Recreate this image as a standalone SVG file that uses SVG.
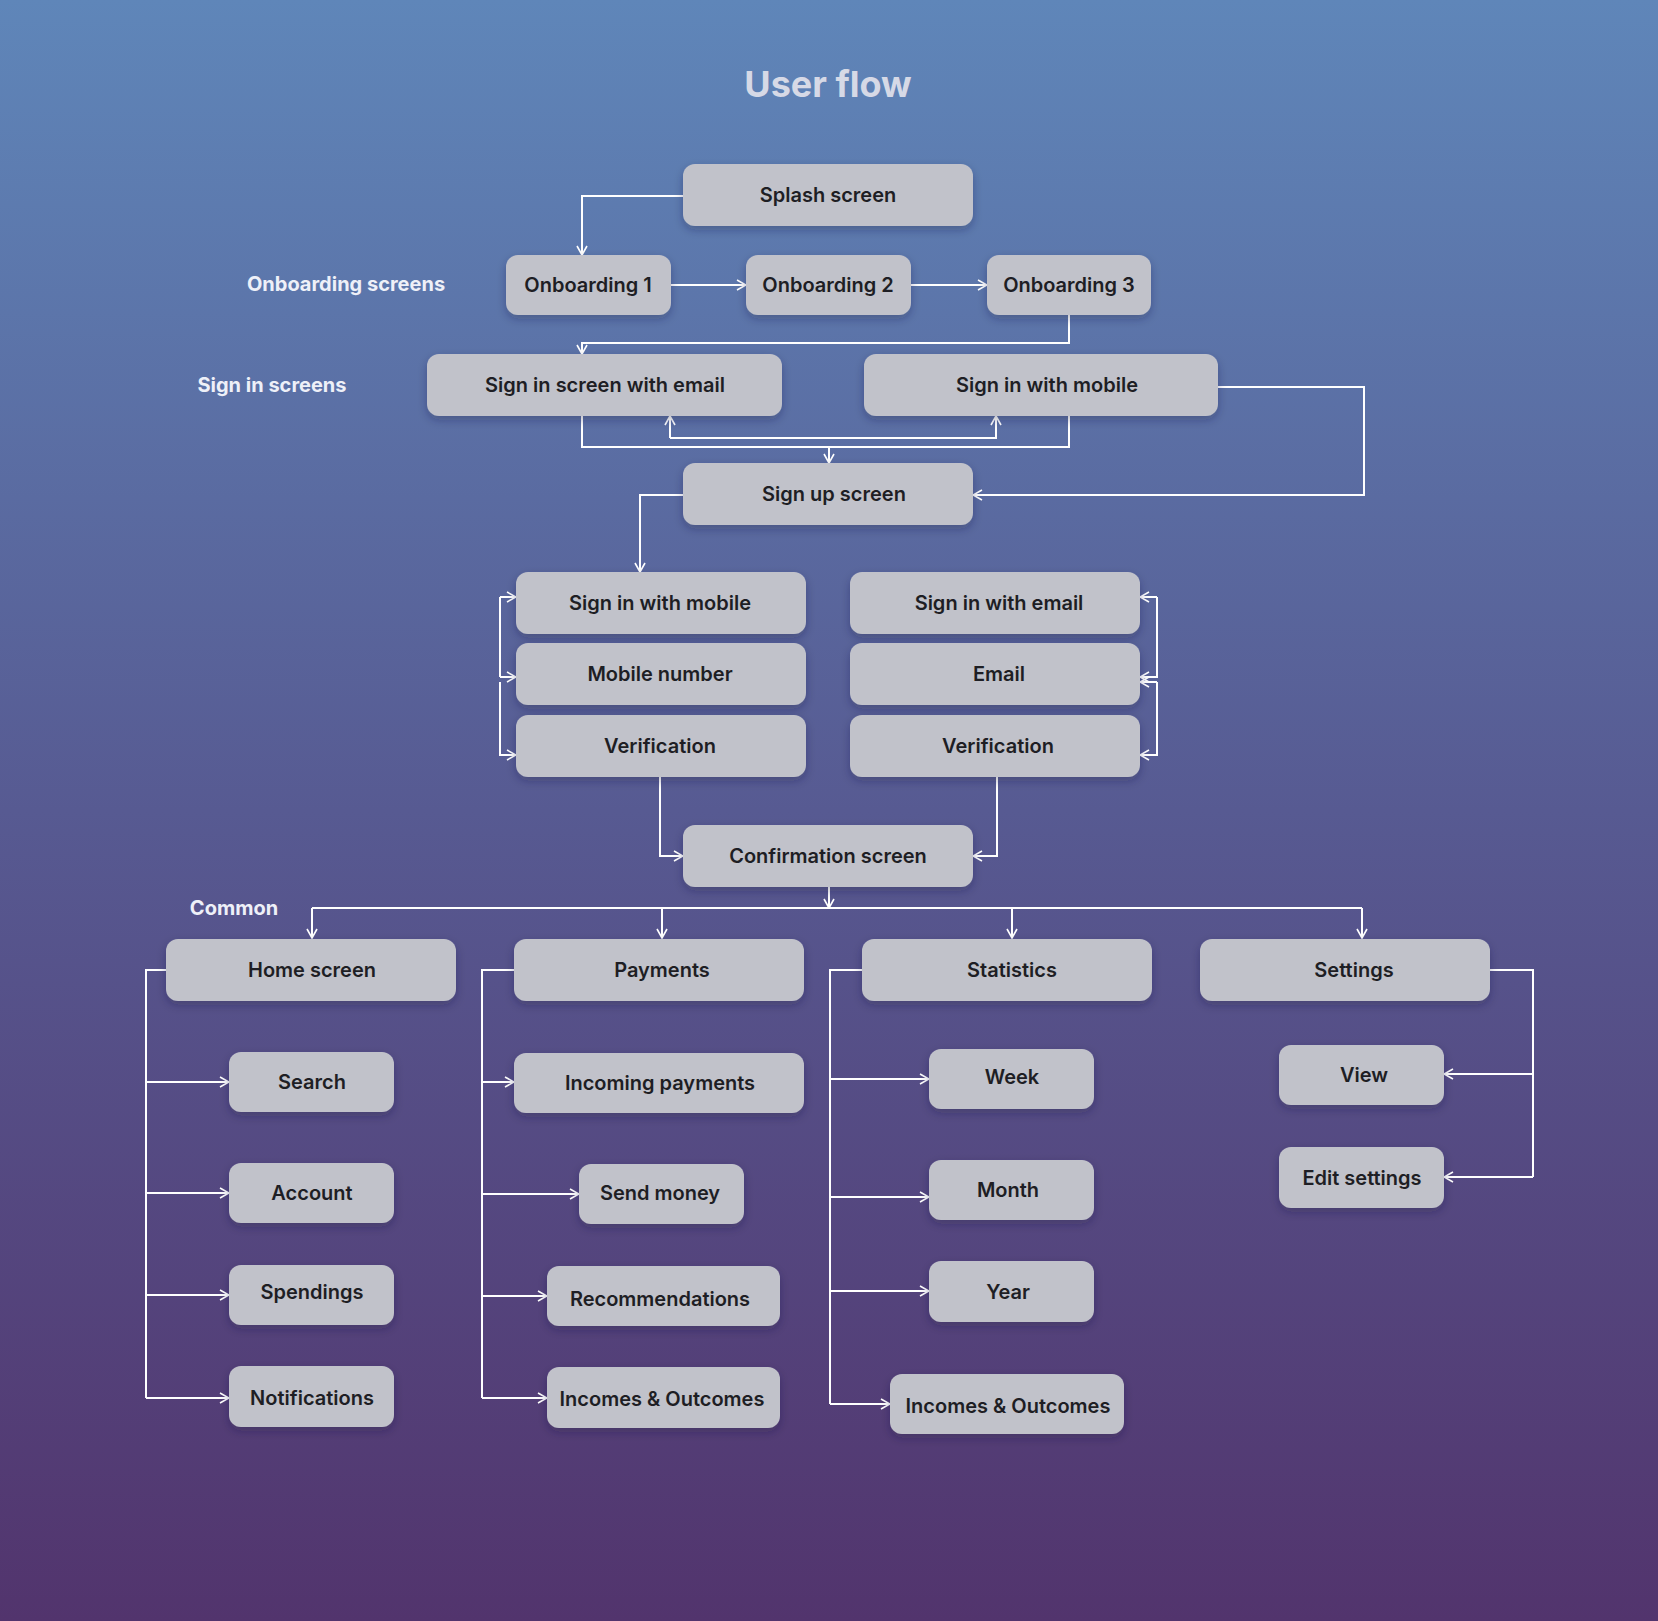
<svg xmlns="http://www.w3.org/2000/svg" width="1658" height="1621" viewBox="0 0 1658 1621">
<defs>
<linearGradient id="bg" x1="0" y1="0" x2="0" y2="1"><stop offset="0" stop-color="#5f86b9"/><stop offset="0.5" stop-color="#575a92"/><stop offset="1" stop-color="#52346d"/></linearGradient>
<filter id="sh" x="-20%" y="-30%" width="140%" height="170%"><feDropShadow dx="0" dy="4" stdDeviation="5" flood-color="#1a1a40" flood-opacity="0.3"/></filter>
<marker id="a" viewBox="0 0 12 12" refX="11" refY="6" markerWidth="12" markerHeight="12" markerUnits="userSpaceOnUse" orient="auto"><path d="M2,1 L11,6 L2,11" fill="none" stroke="#fff" stroke-width="1.6"/></marker>
<style>
.n rect{fill:#c1c2ca;filter:url(#sh)}
.n text{font-family:Inter,"Liberation Sans",sans-serif;font-weight:600;font-size:20px;fill:#1e1e24;text-anchor:middle;dominant-baseline:central}
.l{font-family:Inter,"Liberation Sans",sans-serif;font-weight:700;font-size:20px;fill:#eef0f8;text-anchor:middle}
#c path{fill:none;stroke:#fff;stroke-width:2}
.m{marker-end:url(#a)}
</style>
</defs>
<rect width="1658" height="1621" fill="url(#bg)"/>
<text x="828" y="97" class="l" style="font-size:36px;fill:#d6d9e6">User flow</text>
<text x="346" y="291" class="l">Onboarding screens</text>
<text x="272" y="392" class="l">Sign in screens</text>
<text x="234" y="915" class="l">Common</text>
<g id="c">
<path class="m" d="M683,196 H582 V255"/>
<path class="m" d="M671,285 H746"/>
<path class="m" d="M911,285 H987"/>
<path class="m" d="M1069,315 V343 H582 V354"/>
<path d="M582,416 V447 H1069 V416"/>
<path class="m" d="M829,447 V463"/>
<path class="m" d="M670,438 V416"/>
<path class="m" d="M670,438 H996 V416"/>
<path class="m" d="M1218,387 H1364 V495 H973"/>
<path class="m" d="M683,495 H640 V572"/>
<path class="m" d="M500,597 H516"/>
<path d="M500,597 V677"/>
<path class="m" d="M500,677 H516"/>
<path class="m" d="M500,682 V755 H516"/>
<path class="m" d="M1157,597 H1140"/>
<path class="m" d="M1157,597 V677 H1140"/>
<path class="m" d="M1157,682 H1140"/>
<path class="m" d="M1157,682 V755 H1140"/>
<path class="m" d="M660,777 V856 H683"/>
<path class="m" d="M997,777 V856 H973"/>
<path class="m" d="M829,887 V908"/>
<path d="M312,908 H1362"/>
<path class="m" d="M312,908 V938"/>
<path class="m" d="M662,908 V938"/>
<path class="m" d="M1012,908 V938"/>
<path class="m" d="M1362,908 V938"/>
<path d="M166,970 H146 V1398"/>
<path class="m" d="M146,1082 H229"/><path class="m" d="M146,1193 H229"/><path class="m" d="M146,1295 H229"/><path class="m" d="M146,1398 H229"/>
<path d="M514,970 H482 V1398"/>
<path class="m" d="M482,1082 H514"/><path class="m" d="M482,1194 H579"/><path class="m" d="M482,1296 H547"/><path class="m" d="M482,1398 H547"/>
<path d="M862,970 H830 V1404"/>
<path class="m" d="M830,1079 H929"/><path class="m" d="M830,1197 H929"/><path class="m" d="M830,1291 H929"/><path class="m" d="M830,1404 H890"/>
<path d="M1490,970 H1533 V1177"/>
<path class="m" d="M1533,1074 H1444"/><path class="m" d="M1533,1177 H1444"/>
</g>
<g id="splash" class="n"><rect x="683" y="164" width="290" height="62" rx="12"/><text x="828" y="195">Splash screen</text></g>
<g id="onb1" class="n"><rect x="506" y="255" width="165" height="60" rx="12"/><text x="588" y="285">Onboarding 1</text></g>
<g id="onb2" class="n"><rect x="746" y="255" width="165" height="60" rx="12"/><text x="828" y="285">Onboarding 2</text></g>
<g id="onb3" class="n"><rect x="987" y="255" width="164" height="60" rx="12"/><text x="1069" y="285">Onboarding 3</text></g>
<g id="signemail" class="n"><rect x="427" y="354" width="355" height="62" rx="12"/><text x="605" y="385">Sign in screen with email</text></g>
<g id="signmobile" class="n"><rect x="864" y="354" width="354" height="62" rx="12"/><text x="1047" y="385">Sign in with mobile</text></g>
<g id="signup" class="n"><rect x="683" y="463" width="290" height="62" rx="12"/><text x="834" y="494">Sign up screen</text></g>
<g id="lm1" class="n"><rect x="516" y="572" width="290" height="62" rx="12"/><text x="660" y="603">Sign in with mobile</text></g>
<g id="lm2" class="n"><rect x="516" y="643" width="290" height="62" rx="12"/><text x="660" y="674">Mobile number</text></g>
<g id="lm3" class="n"><rect x="516" y="715" width="290" height="62" rx="12"/><text x="660" y="746">Verification</text></g>
<g id="re1" class="n"><rect x="850" y="572" width="290" height="62" rx="12"/><text x="999" y="603">Sign in with email</text></g>
<g id="re2" class="n"><rect x="850" y="643" width="290" height="62" rx="12"/><text x="999" y="674">Email</text></g>
<g id="re3" class="n"><rect x="850" y="715" width="290" height="62" rx="12"/><text x="998" y="746">Verification</text></g>
<g id="confirm" class="n"><rect x="683" y="825" width="290" height="62" rx="12"/><text x="828" y="856">Confirmation screen</text></g>
<g id="home" class="n"><rect x="166" y="939" width="290" height="62" rx="12"/><text x="312" y="970">Home screen</text></g>
<g id="payments" class="n"><rect x="514" y="939" width="290" height="62" rx="12"/><text x="662" y="970">Payments</text></g>
<g id="stats" class="n"><rect x="862" y="939" width="290" height="62" rx="12"/><text x="1012" y="970">Statistics</text></g>
<g id="settings" class="n"><rect x="1200" y="939" width="290" height="62" rx="12"/><text x="1354" y="970">Settings</text></g>
<g id="search" class="n"><rect x="229" y="1052" width="165" height="60" rx="12"/><text x="312" y="1082">Search</text></g>
<g id="account" class="n"><rect x="229" y="1163" width="165" height="60" rx="12"/><text x="312" y="1193">Account</text></g>
<g id="spendings" class="n"><rect x="229" y="1265" width="165" height="60" rx="12"/><text x="312" y="1292">Spendings</text></g>
<g id="notif" class="n"><rect x="229" y="1366" width="165" height="61" rx="12"/><text x="312" y="1398">Notifications</text></g>
<g id="incoming" class="n"><rect x="514" y="1053" width="290" height="60" rx="12"/><text x="660" y="1083">Incoming payments</text></g>
<g id="send" class="n"><rect x="579" y="1164" width="165" height="60" rx="12"/><text x="660" y="1193">Send money</text></g>
<g id="recom" class="n"><rect x="547" y="1266" width="233" height="60" rx="12"/><text x="660" y="1299">Recommendations</text></g>
<g id="inout1" class="n"><rect x="547" y="1367" width="233" height="61" rx="12"/><text x="662" y="1399">Incomes &amp; Outcomes</text></g>
<g id="week" class="n"><rect x="929" y="1049" width="165" height="60" rx="12"/><text x="1012" y="1077">Week</text></g>
<g id="month" class="n"><rect x="929" y="1160" width="165" height="60" rx="12"/><text x="1008" y="1190">Month</text></g>
<g id="year" class="n"><rect x="929" y="1261" width="165" height="61" rx="12"/><text x="1008" y="1292">Year</text></g>
<g id="inout2" class="n"><rect x="890" y="1374" width="234" height="60" rx="12"/><text x="1008" y="1406">Incomes &amp; Outcomes</text></g>
<g id="view" class="n"><rect x="1279" y="1045" width="165" height="60" rx="12"/><text x="1364" y="1075">View</text></g>
<g id="edit" class="n"><rect x="1279" y="1147" width="165" height="61" rx="12"/><text x="1362" y="1178">Edit settings</text></g>
</svg>
